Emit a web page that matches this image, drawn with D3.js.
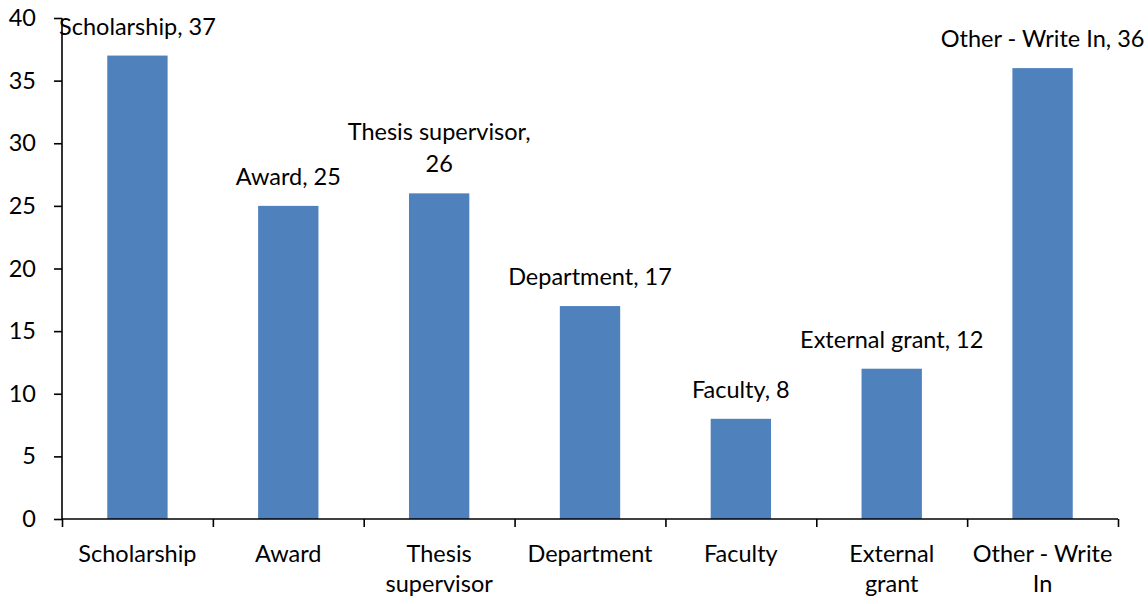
<!DOCTYPE html>
<html>
<head>
<meta charset="utf-8">
<script src="https://cdn.jsdelivr.net/npm/d3@7"></script>
<style>
  body { margin: 0; background: #fff; }
  text { font-family: Lato, "Open Sans", sans-serif; fill: #000; }
</style>
</head>
<body>
<div id="chart"></div>
<script>
// chart values
const categories = ["Scholarship", "Award", "Thesis supervisor", "Department", "Faculty", "External grant", "Other - Write In"];
const values = [37, 25, 26, 17, 8, 12, 36];
// how the category names are broken under the axis
const tickLines = [["Scholarship"], ["Award"], ["Thesis", "supervisor"], ["Department"], ["Faculty"], ["External", "grant"], ["Other - Write", "In"]];
const yTicks = [0, 5, 10, 15, 20, 25, 30, 35, 40];

const width = 1148;
const height = 604;
const margin = { top: 18, right: 30, bottom: 85, left: 62 };
const innerWidth = width - margin.left - margin.right;
const innerHeight = height - margin.top - margin.bottom;
const fontSize = "23.5px";

const svg = d3.select("#chart")
  .append("svg")
  .attr("width", width)
  .attr("height", height);

const g = svg.append("g")
  .attr("transform", `translate(${margin.left}, ${margin.top})`);

// scales
const x = d3.scaleBand()
  .domain(categories)
  .range([0, innerWidth])
  .paddingInner(0.6)
  .paddingOuter(0.3);

const y = d3.scaleLinear()
  .domain([0, 40])
  .range([innerHeight, 0]);

// bars
g.selectAll("rect.bar")
  .data(values)
  .enter().append("rect")
    .attr("class", "bar")
    .attr("x", (d, i) => x(categories[i]))
    .attr("y", d => y(d))
    .attr("width", x.bandwidth())
    .attr("height", d => innerHeight - y(d))
    .attr("fill", "#4f81bd");

// y axis
const yAxis = g.append("g")
  .call(d3.axisLeft(y).tickValues(yTicks).tickSize(8).tickPadding(18));
yAxis.selectAll("text").style("font-size", fontSize);
yAxis.selectAll("line, path").attr("stroke", "#000").attr("stroke-width", 1.6);
yAxis.select("path").attr("d", `M0,${innerHeight}V0`);

// x axis with ticks at category boundaries
const xEdges = d3.scaleLinear().domain([0, categories.length]).range([0, innerWidth]);
const xAxis = g.append("g")
  .attr("transform", `translate(0, ${innerHeight})`)
  .call(d3.axisBottom(xEdges).ticks(categories.length).tickSize(8));
xAxis.selectAll("text").remove();
xAxis.selectAll("line, path").attr("stroke", "#000").attr("stroke-width", 1.6);
xAxis.select("path").attr("d", `M0,0H${innerWidth}`);

// category labels
g.selectAll("text.cat")
  .data(tickLines)
  .enter().append("text")
    .attr("class", "cat")
    .attr("text-anchor", "middle")
    .attr("transform", (d, i) => `translate(${x(categories[i]) + x.bandwidth() / 2}, ${innerHeight + 43})`)
    .style("font-size", fontSize)
    .each(function (lines) {
      const t = d3.select(this);
      lines.forEach((line, k) => {
        t.append("tspan").attr("x", 0).attr("y", k * 30).text(line);
      });
    });

// data labels, wrapped when they get too wide
const labelMax = 209;
const labels = g.selectAll("text.val")
  .data(values)
  .enter().append("text")
    .attr("class", "val")
    .attr("text-anchor", "middle")
    .style("font-size", fontSize);

labels.each(function (d, i) {
  const t = d3.select(this);
  const full = `${categories[i]}, ${d}`;
  t.text(full);
  let lines = [full];
  if (this.getComputedTextLength() > labelMax) {
    lines = [`${categories[i]},`, `${d}`];
  }
  t.text(null);
  const cx = x(categories[i]) + x.bandwidth() / 2;
  const base = y(d) - 21;
  lines.forEach((line, k) => {
    t.append("tspan")
      .attr("x", cx)
      .attr("y", base - (lines.length - 1 - k) * 32)
      .text(line);
  });
});
</script>
</body>
</html>
